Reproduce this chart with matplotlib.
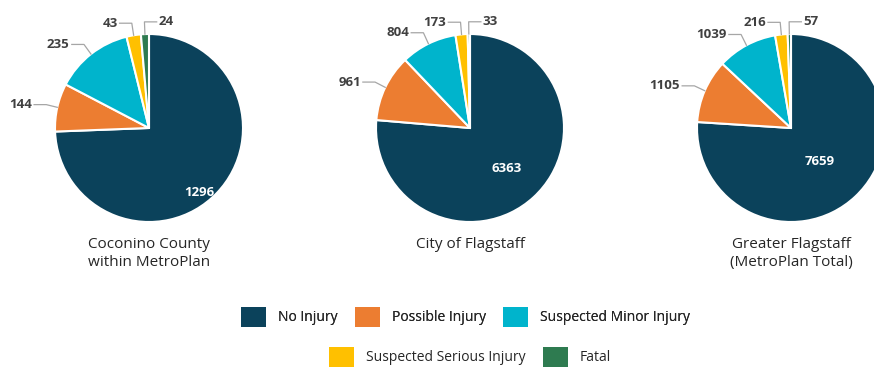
import numpy as np
import matplotlib.pyplot as plt
from matplotlib.patches import Patch

plt.rcParams['font.family'] = ['Open Sans', 'DejaVu Sans']

# Crash counts by injury severity
categories = ['No Injury', 'Possible Injury', 'Suspected Minor Injury',
              'Suspected Serious Injury', 'Fatal']
coconino = [1296, 144, 235, 43, 24]
flagstaff = [6363, 961, 804, 173, 33]
metroplan = [7659, 1105, 1039, 216, 57]
titles = ['Coconino County\nwithin MetroPlan', 'City of Flagstaff',
          'Greater Flagstaff\n(MetroPlan Total)']

colors = ['#0b425b', '#ec7d31', '#00b4cc', '#ffc000', '#2e7b50']
label_color = '#404040'

# canvas is laid out in pixel units
W, H = 874, 372
fig = plt.figure(figsize=(W / 100, H / 100), dpi=100)
ax = fig.add_axes([0, 0, 1, 1])

centers = [(149, 244), (470, 244), (791, 244)]
radius = 94
# spot of the big "No Injury" value inside each pie, in radius units
inner_pos = [(0.54, -0.69), (0.39, -0.43), (0.30, -0.36)]

for values, title, (cx, cy), (px, py) in zip([coconino, flagstaff, metroplan], titles,
                                             centers, inner_pos):
    wedges, _ = ax.pie(values, colors=colors, startangle=90, counterclock=False,
                       center=(cx, cy), radius=radius,
                       wedgeprops=dict(edgecolor='white', linewidth=1.5))
    ax.text(cx + px * radius, cy + py * radius, str(values[0]),
            color='white', fontsize=9.5, fontweight='bold', ha='center', va='center')
    for i, w in enumerate(wedges[1:], start=1):
        a = np.deg2rad((w.theta1 + w.theta2) / 2)
        ca, sa = np.cos(a), np.sin(a)
        side = -1 if ca < -0.05 else 1
        ex, ey = cx + radius * ca, cy + radius * sa
        bx, by = cx + 1.12 * radius * ca, cy + 1.13 * radius * sa
        tx = bx + side * 0.13 * radius
        ax.plot([ex, bx, tx], [ey, by, by], color='#a6a6a6', lw=0.9)
        ax.text(tx + side * 2, by, str(values[i]), color=label_color,
                fontsize=9.5, fontweight='bold', va='center',
                ha='right' if side < 0 else 'left')
    ax.text(cx, cy - radius - 15, title, color='#262626', fontsize=11,
            ha='center', va='top', linespacing=1.3)

ax.set_xlim(0, W)
ax.set_ylim(0, H)
ax.set_aspect('equal')
ax.axis('off')

handles = [Patch(facecolor=c, edgecolor='none') for c in colors]
leg_kw = dict(frameon=False, fontsize=10, handlelength=1.8, handleheight=1.9,
              handletextpad=0.9, columnspacing=1.2, borderpad=0, labelcolor='#262626')
leg1 = fig.legend(handles[:3], categories[:3], ncol=3, loc='center',
                  bbox_to_anchor=(465.5 / W, 1 - 317 / H), **leg_kw)
fig.add_artist(leg1)
fig.legend(handles[3:], categories[3:], ncol=2, loc='center',
           bbox_to_anchor=(470 / W, 1 - 357 / H), **leg_kw)

fig.savefig('out.png', dpi=100, facecolor='white')
